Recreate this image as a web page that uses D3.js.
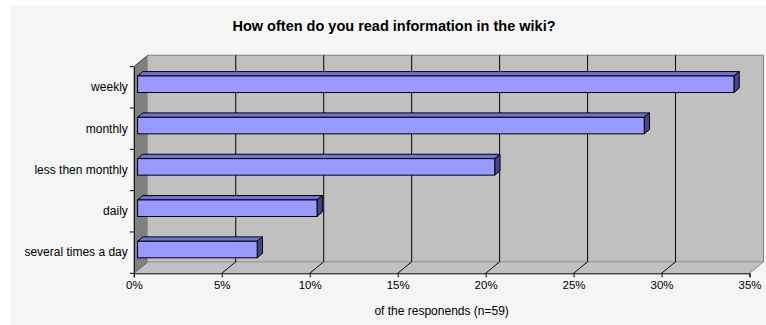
<!DOCTYPE html>
<html><head><meta charset="utf-8">
<script src="https://cdn.jsdelivr.net/npm/d3@7"></script>
<style>
html,body{margin:0;padding:0;background:#fff;}
svg text{font-family:"Liberation Sans",Arial,sans-serif;fill:#000;}
</style></head>
<body>
<svg id="c" width="766" height="325"></svg>
<script>
const categories = ["weekly","monthly","less then monthly","daily","several times a day"];
const values = [33.9, 28.8, 20.3, 10.2, 6.8]; // % of respondents (n=59)
const xTicks = [0,5,10,15,20,25,30,35];
const title = "How often do you read information in the wiki?";
const xTitle = "of the responends (n=59)";

(function(){
const svg = d3.select("#c");
svg.append("rect").attr("x",10).attr("y",5).attr("width",756).attr("height",320).attr("fill","#f5f5f5");

const pLeft = 133.8, pRight = 749.5, pTop = 66.7, pBottom = 273.3;
const DX = 14, DY = 11.5;           // full depth offset
const bdx = 3.8, bdy = 3.1;         // bar front face depth
const ddx = 5.3, ddy = 4.4;         // bar depth

const x = d3.scaleLinear().domain([0,35]).range([pLeft,pRight]);
const yBand = d3.scaleBand().domain(categories).range([pTop,pBottom]).paddingInner(0.6).paddingOuter(0.3);
const yCat = d3.scaleBand().domain(categories).range([pTop,pBottom]).padding(0);

const g = svg.append("g");
g.append("rect").attr("x",pLeft+DX).attr("y",pTop-DY).attr("width",pRight-pLeft).attr("height",pBottom-pTop)
  .attr("fill","#c0c0c0");
g.append("polygon").attr("points",[[pLeft,pBottom],[pLeft+DX,pBottom-DY],[pRight+DX,pBottom-DY],[pRight,pBottom]].join(" "))
  .attr("fill","#c0c0c0");
g.append("polygon").attr("points",[[pLeft,pTop],[pLeft+DX,pTop-DY],[pLeft+DX,pBottom-DY],[pLeft,pBottom]].join(" "))
  .attr("fill","#808080");
g.append("path").attr("d",`M${pLeft+DX},${pTop-DY}H${pRight+DX}V${pBottom-DY}`).attr("fill","none").attr("stroke","#808080");
g.append("path").attr("d",`M${pLeft+DX},${pBottom-DY}H${pRight+DX}L${pRight},${pBottom}`).attr("fill","none").attr("stroke","#8a8a8a");
g.append("path").attr("d",`M${pLeft},${pTop}L${pLeft+DX},${pTop-DY}`).attr("fill","none").attr("stroke","#404040");
g.append("path").attr("d",`M${pLeft},${pBottom}L${pLeft+DX},${pBottom-DY}`).attr("fill","none").attr("stroke","#606060");

const inner = xTicks.filter(t=>t>0 && t<35);
g.selectAll(".gw").data(inner).join("line")
  .attr("x1",d=>x(d)+DX).attr("x2",d=>x(d)+DX).attr("y1",pTop-DY).attr("y2",pBottom-DY)
  .attr("stroke","#000").attr("stroke-width",1);
g.selectAll(".gf").data(inner).join("line")
  .attr("x1",d=>x(d)).attr("y1",pBottom).attr("x2",d=>x(d)+DX).attr("y2",pBottom-DY)
  .attr("stroke","#000").attr("stroke-width",1);

const bars = g.selectAll(".bar").data(categories.map((c,i)=>({c,v:values[i]}))).join("g");
bars.each(function(d){
  const el = d3.select(this);
  const X0 = x(0)+bdx, X1 = x(d.v)+bdx;
  const y0 = yBand(d.c)-bdy, h = yBand.bandwidth();
  el.append("polygon").attr("points",[[X0,y0],[X1,y0],[X1+ddx,y0-ddy],[X0+ddx,y0-ddy]].join(" "))
    .attr("fill","#7373d6").attr("stroke","#000").attr("stroke-width",1).attr("stroke-linejoin","round");
  el.append("polygon").attr("points",[[X1,y0],[X1+ddx,y0-ddy],[X1+ddx,y0+h-ddy],[X1,y0+h]].join(" "))
    .attr("fill","#45458f").attr("stroke","#000").attr("stroke-width",1).attr("stroke-linejoin","round");
  el.append("rect").attr("x",X0).attr("y",y0).attr("width",X1-X0).attr("height",h)
    .attr("fill","#9999ff").attr("stroke","#000").attr("stroke-width",1);
});

const ya = svg.append("g").attr("transform",`translate(${pLeft},0)`)
  .call(d3.axisLeft(yCat).tickSize(0).tickPadding(6));
ya.select(".domain").attr("stroke","#000");
ya.selectAll("text").attr("font-size",12).attr("font-family","Liberation Sans, Arial, sans-serif");
const bounds = categories.map(c=>yCat(c)).concat([pBottom]);
svg.append("g").selectAll("line").data(bounds).join("line")
  .attr("x1",pLeft-4).attr("x2",pLeft).attr("y1",d=>d).attr("y2",d=>d).attr("stroke","#000");

const xa = svg.append("g").attr("transform",`translate(0,${pBottom})`)
  .call(d3.axisBottom(x).tickValues(xTicks).tickFormat(d=>d+"%").tickSize(4).tickPadding(4));
xa.select(".domain").attr("stroke","#000");
xa.selectAll("line").attr("stroke","#000");
xa.selectAll("text").attr("font-size",11.5).attr("font-family","Liberation Sans, Arial, sans-serif");

svg.append("text").attr("x",(pLeft+pRight)/2).attr("y",315).attr("text-anchor","middle")
  .attr("font-size",12).text(xTitle);
svg.append("text").attr("x",394).attr("y",31).attr("text-anchor","middle")
  .attr("font-size",14.5).attr("font-weight","bold").text(title);
})();
</script>
</body></html>
